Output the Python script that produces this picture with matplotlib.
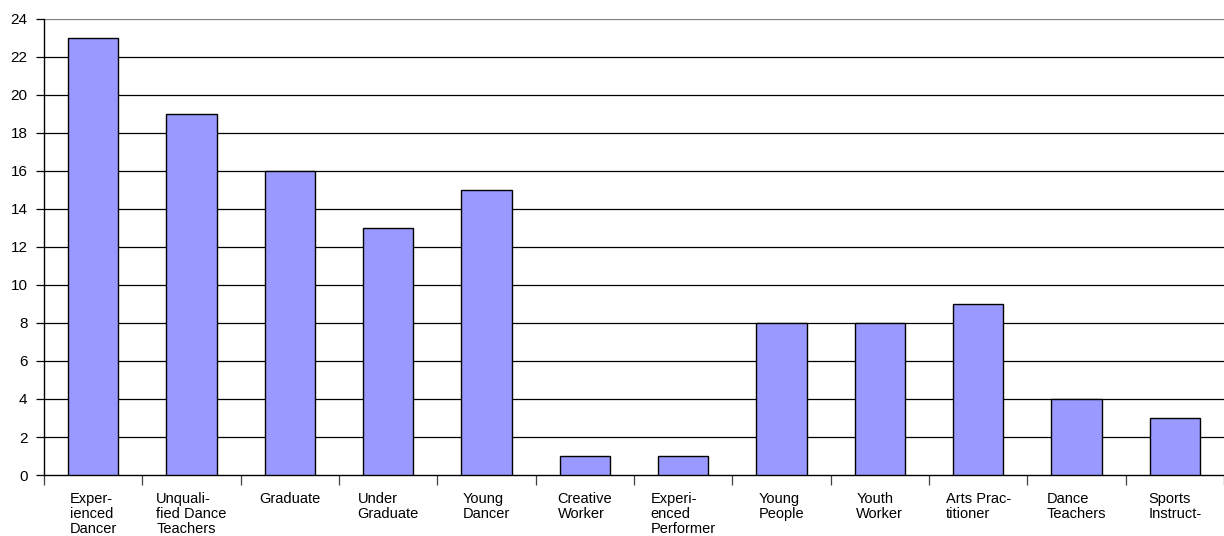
import numpy as np
import matplotlib.pyplot as plt

plt.rcParams['font.family'] = ['Liberation Sans', 'DejaVu Sans']

categories = [
    "Exper-\nienced\nDancer",
    "Unquali-\nfied Dance\nTeachers",
    "Graduate",
    "Under\nGraduate",
    "Young\nDancer",
    "Creative\nWorker",
    "Experi-\nenced\nPerformer",
    "Young\nPeople",
    "Youth\nWorker",
    "Arts Prac-\ntitioner",
    "Dance\nTeachers",
    "Sports\nInstruct-",
]
counts = [23, 19, 16, 13, 15, 1, 1, 8, 8, 9, 4, 3]
y_ticks = list(range(0, 25, 2))

fig = plt.figure(figsize=(12.24, 5.36), dpi=100)
ax = fig.add_axes([0.036, 0.1138, 0.964, 0.8508])

x = np.arange(len(categories))
ax.bar(x, counts, width=0.51, color='#9999ff', edgecolor='black',
       linewidth=1, zorder=3)

ax.set_xlim(-0.5, len(categories) - 0.5)
ax.set_ylim(0, 24)
ax.set_yticks(y_ticks)
ax.set_yticklabels([str(v) for v in y_ticks], fontsize=11)
for v in y_ticks[1:]:
    ax.axhline(v, color='black' if v < 24 else '#808080', linewidth=0.9, zorder=1)

# category boundary ticks, labels centred in each slot
ax.set_xticks(np.arange(len(categories) + 1) - 0.5)
ax.set_xticklabels([])
ax.set_xticks(x, minor=True)
ax.set_xticklabels(categories, minor=True, fontsize=10.5,
                   ha='center', multialignment='left', linespacing=1.12)
ax.tick_params(axis='x', which='minor', length=0, pad=12)
ax.tick_params(axis='x', which='major', length=7, width=0.9, color='#404040')
ax.tick_params(axis='y', length=6, width=0.9, pad=6)

ax.spines['top'].set_visible(False)
ax.spines['right'].set_visible(False)
ax.spines['left'].set_linewidth(1)
ax.spines['bottom'].set_linewidth(1)

fig.savefig('out.png', dpi=100)
plt.close(fig)
